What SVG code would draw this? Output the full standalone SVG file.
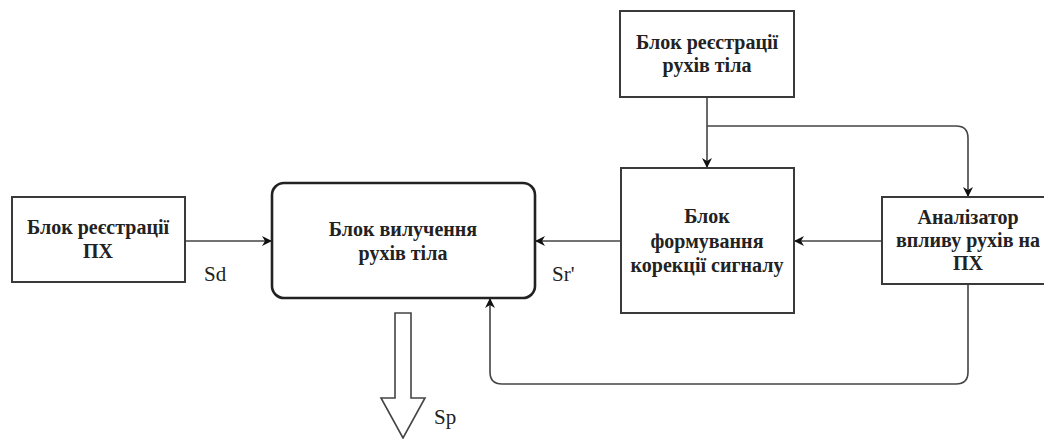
<svg xmlns="http://www.w3.org/2000/svg" width="1044" height="439" viewBox="0 0 1044 439">
<style>
.box{fill:#fff;stroke:#3a3a3a;stroke-width:2}
.main{fill:#fff;stroke:#222;stroke-width:2.6}
.t{font-family:'Liberation Serif','DejaVu Serif',serif;font-weight:bold;font-size:20px;fill:#222;text-anchor:middle}
.lbl{font-family:'Liberation Serif','DejaVu Serif',serif;font-size:21px;fill:#222}
.c{fill:none;stroke:#444;stroke-width:1.6}
</style>
<defs>
<marker id="ah" markerWidth="10" markerHeight="10" refX="9" refY="5" orient="auto" markerUnits="userSpaceOnUse">
<path d="M0,0 L10,5 L0,10 L3,5 Z" fill="#111"/>
</marker>
</defs>
<g id="connectors">
<path class="c" d="M185,241 H271" marker-end="url(#ah)"/>
<path class="c" d="M621,241 H536" marker-end="url(#ah)"/>
<path class="c" d="M882,241 H795" marker-end="url(#ah)"/>
<path class="c" d="M707,97 V167" marker-end="url(#ah)"/>
<path class="c" d="M707,126 H956 Q968,126 968,138 V196" marker-end="url(#ah)"/>
<path class="c" d="M968,284 V372 Q968,384 956,384 H502 Q490,384 490,372 V299" marker-end="url(#ah)"/>
<path d="M395,313 H411 V398 H425 L403,438 L381,398 H395 Z" fill="#fff" stroke="#444" stroke-width="1.6"/>
</g>
<g id="n1">
<rect class="box" x="12" y="197" width="173" height="85"/>
<text class="t" x="98" y="234">Блок реєстрації</text>
<text class="t" x="98" y="258">ПХ</text>
</g>
<g id="n2">
<rect class="main" x="272" y="183" width="263" height="115" rx="12"/>
<text class="t" x="403" y="236">Блок вилучення</text>
<text class="t" x="403" y="260">рухів тіла</text>
</g>
<g id="n3">
<rect class="box" x="620" y="11" width="174" height="86"/>
<text class="t" x="707" y="49">Блок реєстрації</text>
<text class="t" x="707" y="72">рухів тіла</text>
</g>
<g id="n4">
<rect class="box" x="621" y="168" width="173" height="145"/>
<text class="t" x="707" y="223">Блок</text>
<text class="t" x="707" y="248">формування</text>
<text class="t" x="707" y="272">корекції сигналу</text>
</g>
<g id="n5">
<rect class="box" x="882" y="197" width="172" height="87"/>
<text class="t" x="968" y="224">Аналізатор</text>
<text class="t" x="968" y="247">впливу рухів на</text>
<text class="t" x="968" y="270">ПХ</text>
</g>
<g id="labels">
<text class="lbl" x="204" y="281">Sd</text>
<text class="lbl" x="552" y="281">Sr'</text>
<text class="lbl" x="434" y="424">Sp</text>
</g>
</svg>
